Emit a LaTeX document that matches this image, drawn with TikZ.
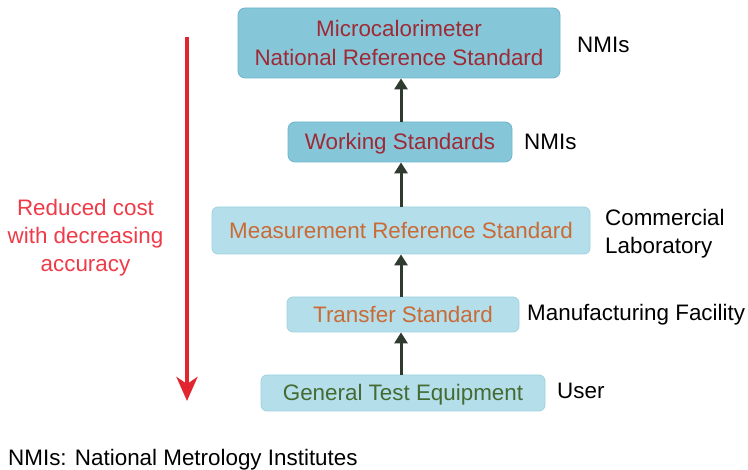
\documentclass[tikz,border=0pt]{standalone}
\usepackage{fontspec}
\setmainfont{Liberation Sans}
\usetikzlibrary{arrows.meta}
\definecolor{boxdark}{HTML}{86C6D9}
\definecolor{boxdarkedge}{HTML}{6DB4CA}
\definecolor{boxlight}{HTML}{B4DEEA}
\definecolor{boxlightedge}{HTML}{A0D1DF}
\definecolor{txtred}{HTML}{9E2A36}
\definecolor{txtorange}{HTML}{C96B37}
\definecolor{txtgreen}{HTML}{456B33}
\definecolor{arrowdark}{HTML}{2E3B2E}
\definecolor{redarrow}{HTML}{E1262F}
\definecolor{redtext}{HTML}{EE3B48}
\tikzset{
  basefont/.style={font=\fontsize{22.4}{29}\selectfont},
  darkbox/.style={basefont, rectangle, rounded corners=7pt, fill=boxdark, draw=boxdarkedge, line width=0.8pt, inner sep=0pt},
  lightbox/.style={basefont, rectangle, rounded corners=6pt, fill=boxlight, draw=boxlightedge, line width=0.8pt, inner sep=0pt},
  single/.style={text height=16pt, text depth=0pt},
  uparrow/.style={draw=arrowdark, line width=3pt, -{Triangle[length=11pt,width=13pt]}},
  sidelabel/.style={basefont, anchor=base west, inner sep=0pt, align=left},
}
\begin{document}
\begin{tikzpicture}[x=1pt,y=-1pt]
\useasboundingbox (0,0) rectangle (748,470);

\node[darkbox, minimum width=322pt, minimum height=70pt, align=center, text=txtred] (top) at (399,43) {Microcalorimeter\\National Reference Standard};
\node[darkbox, single, minimum width=224pt, minimum height=40pt, text=txtred] (work) at (400,142) {Working Standards};
\node[lightbox, single, minimum width=378pt, minimum height=47pt, text=txtorange] (meas) at (401,230.5) {Measurement Reference Standard};
\node[lightbox, single, minimum width=232pt, minimum height=35pt, text=txtorange] (trans) at (403,314.5) {Transfer Standard};
\node[lightbox, single, minimum width=284pt, minimum height=36pt, text=txtgreen] (gen) at (403,393) {General Test Equipment};

\draw[uparrow] (gen.north -| 401,0) -- (trans.south -| 401,0);
\draw[uparrow] (trans.north -| 401,0) -- (meas.south -| 401,0);
\draw[uparrow] (meas.north -| 401,0) -- (work.south -| 401,0);
\draw[uparrow] (work.north -| 401,0) -- (top.south -| 401,0);

\node[sidelabel] (l1) at (577,53) {NMIs};
\node[sidelabel] (l2) at (524,150) {NMIs};
\node[sidelabel, font=\fontsize{22.4}{28}\selectfont, anchor=north west] (l3) at (605,209) {Commercial\\Laboratory};
\node[sidelabel] (l4) at (527,321) {Manufacturing Facility};
\node[sidelabel] (l5) at (557,399) {User};

\coordinate (rstart) at (187,37);
\coordinate (rend) at (187,401);
\draw[draw=redarrow, line width=4pt, -{Stealth[length=24pt,width=21pt,inset=7pt]}] (rstart) -- (rend);
\node[font=\fontsize{22.4}{28}\selectfont, text=redtext, align=center, inner sep=0pt] (rtext) at (85.5,238) {Reduced cost\\with decreasing\\accuracy};

\node[basefont, anchor=base west, inner sep=0pt] (foot) at (8,466) {NMIs: National Metrology Institutes};
\end{tikzpicture}
\end{document}
